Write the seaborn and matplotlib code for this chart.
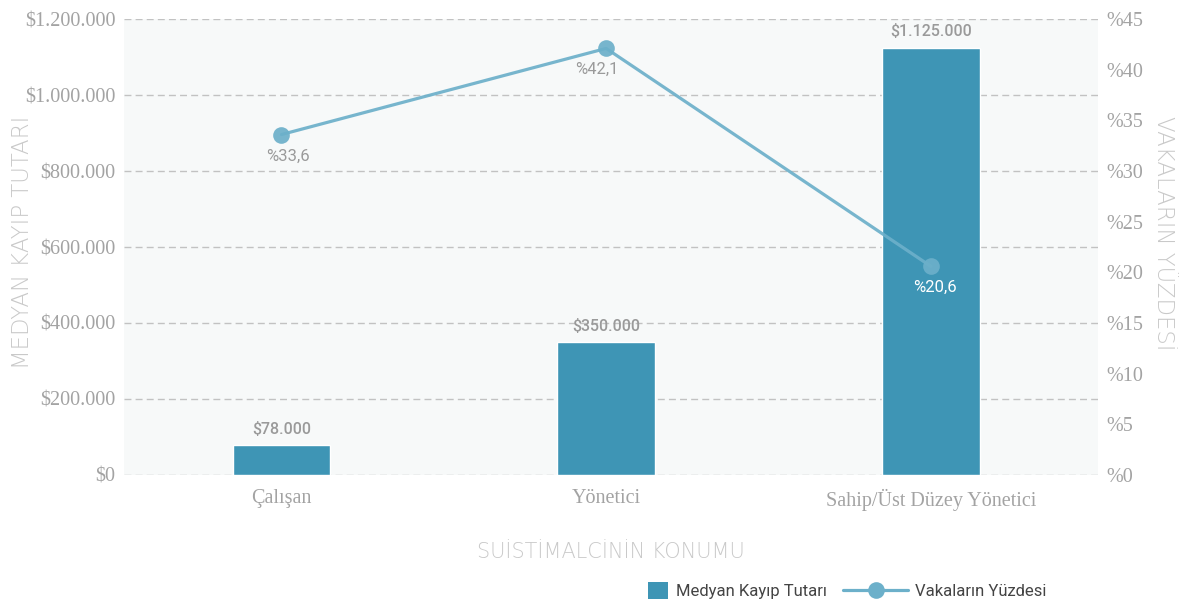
import matplotlib
matplotlib.use("Agg")
import matplotlib.pyplot as plt
from matplotlib.ticker import FuncFormatter, MultipleLocator
from matplotlib.patches import Patch
from matplotlib.lines import Line2D
import seaborn as sns
import pandas as pd
import numpy as np

categories = ["Çalışan", "Yönetici", "Sahip/Üst Düzey Yönetici"]
median_loss = [78000, 350000, 1125000]
case_pct = [33.6, 42.1, 20.6]
bar_labels = ["$78.000", "$350.000", "$1.125.000"]
pct_labels = ["%33,6", "%42,1", "%20,6"]

BAR = "#3e95b5"
LINE = "#6cb0ca"
GRAY = "#a3a3a3"
LIGHT = "#c9c9c9"

sns.set_theme(style="white")
plt.rcParams["font.family"] = ["DejaVu Sans"]

fig = plt.figure(figsize=(11.85, 6.06), dpi=100)
ax = fig.add_axes([0.1046, 0.2162, 0.822, 0.7524])
ax.set_facecolor("#f7f9f9")

df = pd.DataFrame({"cat": categories, "loss": median_loss, "pct": case_pct})
sns.barplot(data=df, x="cat", y="loss", color=BAR, saturation=1, width=0.30, ax=ax, zorder=2)

ax.set_ylim(0, 1200000)
ax.set_xlim(-0.485, 2.515)
ax.yaxis.set_major_locator(MultipleLocator(200000))
ax.yaxis.set_major_formatter(FuncFormatter(lambda v, p: "$" + f"{int(v):,}".replace(",", ".")))
ax.grid(axis="y", linestyle=(0, (5, 3)), color="#c2c2c2", linewidth=1, zorder=0)
ax.set_axisbelow(True)
for s in ax.spines.values():
    s.set_visible(False)
ax.tick_params(axis="both", length=0, pad=6)
for lbl in ax.get_yticklabels() + ax.get_xticklabels():
    lbl.set_fontfamily("Liberation Serif")
    lbl.set_fontsize(14.5)
    lbl.set_color(GRAY)
ax.tick_params(axis="x", pad=10)

for i, (v, t) in enumerate(zip(median_loss, bar_labels)):
    ax.annotate(t, (i, v), xytext=(0, 6), textcoords="offset points", ha="center", va="bottom",
                fontfamily="Roboto", fontweight="medium", fontsize=11.5, color="#9a9a9a")

ax.set_xlabel("SUİSTİMALCİNİN KONUMU", fontfamily="DejaVu Sans", fontweight="light",
              fontsize=15, color=LIGHT, labelpad=22)
ax.set_ylabel("MEDYAN KAYIP TUTARI", fontfamily="DejaVu Sans", fontweight="light",
              fontsize=16.5, color=LIGHT)
ax.yaxis.set_label_coords(-0.0925, 0.51)

ax2 = ax.twinx()
ax2.patch.set_visible(False)
sns.lineplot(x=np.arange(len(categories)), y=df["pct"], ax=ax2, color=LINE, linewidth=2.3,
             marker="o", markersize=12, markeredgewidth=0, alpha=0.92, zorder=3)
ax2.set_ylim(0, 45)
ax2.yaxis.set_major_locator(MultipleLocator(5))
ax2.yaxis.set_major_formatter(FuncFormatter(lambda v, p: f"%{int(round(v))}"))
for s in ax2.spines.values():
    s.set_visible(False)
ax2.tick_params(axis="y", length=0, pad=6)
for lbl in ax2.get_yticklabels():
    lbl.set_fontfamily("Liberation Serif")
    lbl.set_fontsize(14.5)
    lbl.set_color(GRAY)
ax2.set_ylabel("VAKALARIN YÜZDESİ", rotation=270, fontfamily="DejaVu Sans", fontweight="light",
               fontsize=16.5, color=LIGHT, va="center")
ax2.yaxis.set_label_coords(1.067, 0.53)
ax2.set_xlim(-0.485, 2.515)

label_colors = ["#9a9a9a", "#9a9a9a", "white"]
label_dx = [5, -7, 3]
for i, (v, t) in enumerate(zip(case_pct, pct_labels)):
    ax2.annotate(t, (i, v), xytext=(label_dx[i], -10), textcoords="offset points", ha="center", va="top",
                 fontfamily="Roboto", fontsize=12, color=label_colors[i], zorder=5)

leg1 = fig.legend([Patch(facecolor=BAR, edgecolor="none")], ["Medyan Kayıp Tutarı"],
                  loc="lower left", bbox_to_anchor=(0.534, -0.013), frameon=False,
                  handlelength=1.2, handleheight=1.2, handletextpad=0.5,
                  prop={"family": "Roboto", "size": 12}, labelcolor="#444444")
leg2 = fig.legend([Line2D([0], [0], color=LINE, linewidth=2.3, marker="o", markersize=12, markeredgewidth=0)],
                  ["Vakaların Yüzdesi"], loc="lower left", bbox_to_anchor=(0.699, -0.013), frameon=False,
                  handlelength=3.9, handletextpad=0.4,
                  prop={"family": "Roboto", "size": 12}, labelcolor="#444444")

fig.savefig("out.png", dpi=100)
